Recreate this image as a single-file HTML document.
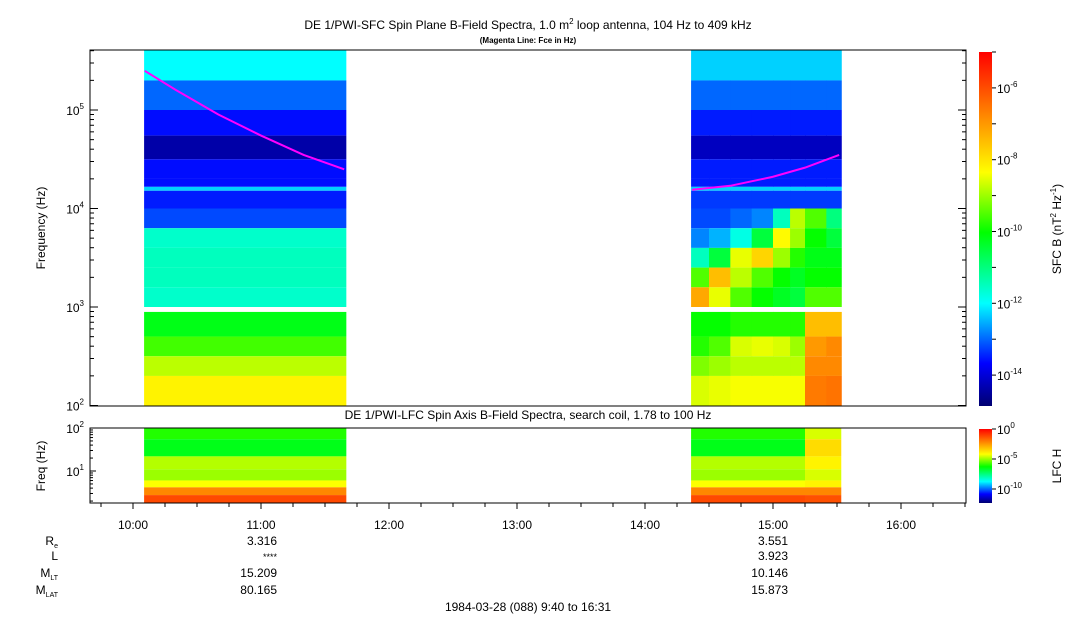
<!DOCTYPE html>
<html><head><meta charset="utf-8"><style>
body{margin:0;background:#fff;}
svg{display:block;font-family:"Liberation Sans",sans-serif;}
</style></head><body>
<svg id="chart" width="1083" height="620" viewBox="0 0 1083 620" xmlns="http://www.w3.org/2000/svg">
<text x="528" y="29" font-size="12" text-anchor="middle">DE 1/PWI-SFC  Spin Plane B-Field Spectra, 1.0 m<tspan font-size="8" dy="-5">2</tspan><tspan dy="5"> loop antenna, 104 Hz to 409 kHz</tspan></text>
<text x="528" y="43" font-size="8" font-weight="bold" text-anchor="middle">(Magenta Line: Fce in Hz)</text>
<text x="528" y="419" font-size="12" text-anchor="middle">DE 1/PWI-LFC  Spin Axis B-Field Spectra, search coil, 1.78 to 100 Hz</text>
<g id="mainData"></g>
<g id="lowData"></g>
<g id="fce"></g>
<rect x="90" y="50" width="876" height="356" fill="none" stroke="#000" stroke-width="1"/>
<rect x="90" y="428" width="876" height="75" fill="none" stroke="#000" stroke-width="1"/>
<g id="axes" font-size="12"></g>
<text transform="translate(45,228) rotate(-90)" font-size="12" text-anchor="middle">Frequency (Hz)</text>
<text transform="translate(45,466) rotate(-90)" font-size="12" text-anchor="middle">Freq (Hz)</text>
<defs>
<linearGradient id="cmap" x1="0" y1="1" x2="0" y2="0">
<stop offset="0" stop-color="#000070"/><stop offset="0.12" stop-color="#0000ff"/><stop offset="0.29" stop-color="#00ffff"/><stop offset="0.49" stop-color="#00ff00"/><stop offset="0.66" stop-color="#ffff00"/><stop offset="0.83" stop-color="#ff8000"/><stop offset="1" stop-color="#ff0000"/>
</linearGradient>
</defs>
<rect x="979" y="52" width="13" height="354" fill="url(#cmap)"/>
<rect x="979" y="429" width="13" height="74" fill="url(#cmap)"/>
<text transform="translate(1061,229) rotate(-90)" font-size="12" text-anchor="middle">SFC B (nT<tspan font-size="8" dy="-5">2</tspan><tspan dy="5"> Hz</tspan><tspan font-size="8" dy="-5">-1</tspan><tspan dy="5">)</tspan></text>
<text transform="translate(1061,466) rotate(-90)" font-size="12" text-anchor="middle">LFC H</text>
<g font-size="12">
<text x="58" y="545" text-anchor="end">R<tspan font-size="7" dy="3">e</tspan></text>
<text x="58" y="560" text-anchor="end">L</text>
<text x="58" y="577" text-anchor="end">M<tspan font-size="7" dy="3">LT</tspan></text>
<text x="58" y="594" text-anchor="end">M<tspan font-size="7" dy="3">LAT</tspan></text>
<text x="277" y="545" text-anchor="end">3.316</text>
<text x="277" y="560" text-anchor="end" font-size="9">****</text>
<text x="277" y="577" text-anchor="end">15.209</text>
<text x="277" y="594" text-anchor="end">80.165</text>
<text x="788" y="545" text-anchor="end">3.551</text>
<text x="788" y="560" text-anchor="end">3.923</text>
<text x="788" y="577" text-anchor="end">10.146</text>
<text x="788" y="594" text-anchor="end">15.873</text>
</g>
<text x="528" y="611" font-size="12" text-anchor="middle">1984-03-28 (088) 9:40 to 16:31</text>
</svg>
<script>
// ---- data ----
const bandLo = [5.3,5.0,4.74,4.5,4.3,4.22,4.18,4.0,3.8,3.6,3.4,3.2,3.0,2.7,2.5,2.3,2.0];
const bandHi = [5.61,5.3,5.0,4.74,4.5,4.3,4.22,4.18,4.0,3.8,3.6,3.4,3.2,2.95,2.7,2.5,2.3];
const block1Start = 5.2, block1End = 100; // minutes after 10:00
const block1Values = [-12.0,-13.0,-13.6,-14.4,-13.6,-13.6,-12.3,-13.5,-13.2,-11.6,-11.5,-11.5,-11.6,-10.2,-9.6,-8.8,-8.2];
const block2Times = [261.6,270,280,290,300,308,315,325];
const block2End = 332;
const block2Upper = [-12.3,-13.0,-13.5,-14.2,-13.5,-13.5,-12.3,-13.3];
const block2Mid = [
 [-13.2,-12.8,-11.5,-9.5,-7.2],
 [-13.2,-12.5,-10.5,-7.5,-8.5],
 [-13.0,-11.8,-8.5,-8.8,-9.5],
 [-12.8,-10.5,-7.8,-9.5,-10.0],
 [-11.5,-8.3,-9.0,-10.0,-10.3],
 [-8.8,-9.0,-9.8,-10.3,-10.5],
 [-9.5,-10.0,-10.2,-10.0,-9.5],
 [-11.0,-10.5,-10.2,-10.0,-9.5]];
const block2Low = [
 [-10.0,-9.8,-9.2,-8.6],[-10.0,-9.5,-9.0,-8.5],[-9.8,-8.6,-8.8,-8.4],[-9.8,-8.5,-8.8,-8.4],
 [-9.8,-8.6,-8.8,-8.4],[-9.8,-9.0,-8.8,-8.4],[-7.5,-7.0,-6.8,-6.6],[-7.5,-6.8,-6.8,-6.5]];
const lfcLo = [1.74,1.34,1.04,0.78,0.62,0.44,0.25];
const lfcHi = [2.0,1.74,1.34,1.04,0.78,0.62,0.44];
const lfcBlock1 = [-6.0,-6.5,-4.8,-5.0,-4.2,-2.2,-1.2];
const lfcBlock2a = [-6.0,-6.5,-4.8,-5.0,-4.2,-2.2,-1.2];
const lfcBlock2b = [-4.5,-3.6,-4.0,-4.5,-4.0,-2.2,-1.3];
const lfcSplit = 315;
const fce1Times = [5.5,20,40,60,80,99];
const fce1Values = [250000,160000,90000,55000,35000,25000];
const fce2Times = [262,280,300,315,331];
const fce2Values = [15500,17000,21000,26000,35000];
const hourLabels = ["10:00","11:00","12:00","13:00","14:00","15:00","16:00"];
const hourMinutes = [0,60,120,180,240,300,360];
const sfcTickExp = [-6,-8,-10,-12,-14];
const lfcTickExp = [0,-5,-10];
// ---- axes functions ----
const NS="http://www.w3.org/2000/svg";
const xT = m => 133 + m*128/60;
const yMain = l => 110 - (l-5)*98.5;
const yLow = l => 428 + (2-l)*43;
const stops=[[0,[0,0,112]],[0.12,[0,0,255]],[0.29,[0,255,255]],[0.49,[0,255,0]],[0.66,[255,255,0]],[0.83,[255,128,0]],[1,[255,0,0]]];
function cmap(t){t=Math.max(0,Math.min(1,t));for(let i=1;i<stops.length;i++){if(t<=stops[i][0]){const a=stops[i-1],b=stops[i],f=(t-a[0])/(b[0]-a[0]);return `rgb(${a[1].map((v,k)=>Math.round(v+(b[1][k]-v)*f)).join(',')})`;}}return 'rgb(255,0,0)';}
const sfcColor = v => cmap((v+14.86)/9.86);
const lfcColor = v => cmap((v+12.3)/12.3);
function rect(g,x0,x1,y0,y1,fill,name){const r=document.createElementNS(NS,'rect');r.setAttribute('x',x0);r.setAttribute('y',y0);r.setAttribute('width',x1-x0);r.setAttribute('height',y1-y0);r.setAttribute('fill',fill);


g.appendChild(r);}
const gm=document.getElementById('mainData');
bandLo.forEach((lo,i)=>rect(gm,xT(block1Start),xT(block1End),yMain(bandHi[i]),yMain(lo),sfcColor(block1Values[i]),'sfc-cell'));
block2Times.forEach((t,c)=>{const t1=c<block2Times.length-1?block2Times[c+1]:block2End;
 bandLo.forEach((lo,i)=>{let v;if(i<8)v=block2Upper[i];else if(i<13)v=block2Mid[c][i-8];else v=block2Low[c][i-13];
 rect(gm,xT(t),xT(t1)+0.5,yMain(bandHi[i]),yMain(lo),sfcColor(v),'sfc-cell');});});
const gl=document.getElementById('lowData');
lfcLo.forEach((lo,i)=>{rect(gl,xT(block1Start),xT(block1End),yLow(lfcHi[i]),yLow(lo),lfcColor(lfcBlock1[i]),'lfc-cell');
 rect(gl,xT(block2Times[0]),xT(lfcSplit),yLow(lfcHi[i]),yLow(lo),lfcColor(lfcBlock2a[i]),'lfc-cell');
 rect(gl,xT(lfcSplit),xT(block2End),yLow(lfcHi[i]),yLow(lo),lfcColor(lfcBlock2b[i]),'lfc-cell');});
const gf=document.getElementById('fce');
[[fce1Times,fce1Values],[fce2Times,fce2Values]].forEach(([ts,vs])=>{const p=document.createElementNS(NS,'polyline');
 p.setAttribute('points',ts.map((t,i)=>xT(t)+','+yMain(Math.log10(vs[i]))).join(' '));p.setAttribute('fill','none');p.setAttribute('stroke','#ff00ff');p.setAttribute('stroke-width','2');
 
 
 gf.appendChild(p);});
const ga=document.getElementById('axes');
function line(x1,y1,x2,y2){const l=document.createElementNS(NS,'line');l.setAttribute('x1',x1);l.setAttribute('y1',y1);l.setAttribute('x2',x2);l.setAttribute('y2',y2);l.setAttribute('stroke','#000');ga.appendChild(l);return l;}
function txt(x,y,s,anchor,name){const t=document.createElementNS(NS,'text');t.setAttribute('x',x);t.setAttribute('y',y);t.setAttribute('text-anchor',anchor);t.innerHTML=s;
 
 
 ga.appendChild(t);return t;}
const sup=e=>`10<tspan font-size="8" dy="-6">${e}</tspan>`;
for(let d=2;d<=5;d++){for(let k=1;k<10;k++){const l=d+Math.log10(k);if(l>5.61)break;const y=yMain(l);line(90,y,90+(k==1?8:4),y);line(966,y,966-(k==1?8:4),y);}
 txt(84,yMain(d)+5,sup(d),'end','y-tick-label');}
for(let d=0;d<=2;d++){for(let k=1;k<10;k++){const l=d+Math.log10(k);if(l<0.25||l>2)continue;const y=yLow(l);line(90,y,90+(k==1?6:3),y);}}
[1,2].forEach(d=>txt(84,yLow(d)+5,sup(d),'end','lfc-y-tick-label'));
for(let m=-15;m<=390;m+=15){const x=xT(m);if(x<90||x>966)continue;line(x,503,x,m%60==0?509:507);}
hourLabels.forEach((s,i)=>txt(xT(hourMinutes[i]),529,s,'middle','x-tick-label'));
sfcTickExp.forEach(e=>{const y=52+(-5-e)*35.9;txt(997,y+5,sup(e),'start','colorbar-tick-label');});
for(let e=-5;e>=-14;e--){const y=52+(-5-e)*35.9;line(992,y,996,y);}
lfcTickExp.forEach(e=>{const y=429+(-e)*6;line(992,y,996,y);txt(997,y+5,sup(e),'start','lfc-colorbar-tick-label');});
</script>
</body></html>
